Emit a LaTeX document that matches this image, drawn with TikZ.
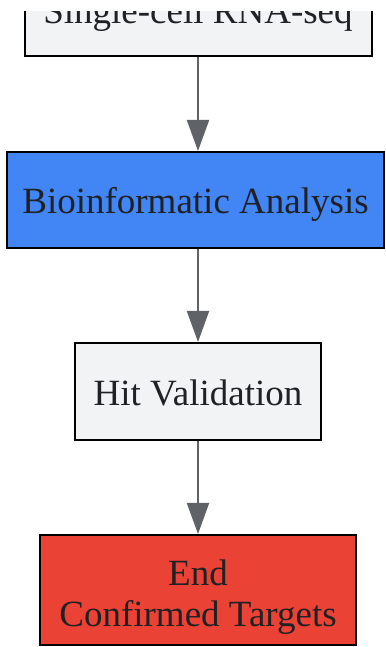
\documentclass[tikz,border=0pt]{standalone}
\usepackage{fontspec}
\setmainfont{Liberation Serif}
\usetikzlibrary{arrows.meta}
\definecolor{boxgray}{HTML}{F1F3F4}
\definecolor{stepblue}{HTML}{4285F4}
\definecolor{stepred}{HTML}{EA4335}
\definecolor{edgegray}{HTML}{5F6368}
\definecolor{txtdark}{HTML}{202124}

\begin{document}
\begin{tikzpicture}[x=0.5pt,y=0.5pt,
  stepbox/.style={draw=black, line width=1pt, text=txtdark, align=center, inner sep=0pt,
    font=\fontsize{18.5}{21}\selectfont, text height=14pt, text depth=0pt},
  flow/.style={draw=edgegray, line width=1pt, -{Triangle[length=15.5pt,width=11pt,fill=edgegray]}}]
\useasboundingbox (0,0) rectangle (385,647);
\clip (0,0) rectangle (385,635);
% boxes
\node[stepbox, fill=boxgray, minimum width=173.5pt, minimum height=46pt] (seq) at (198,637) {Single-cell RNA-seq};
\node[stepbox, fill=stepblue, minimum width=188.5pt, minimum height=48pt] (bio) at (195.5,447) {Bioinformatic Analysis};
\node[stepbox, fill=boxgray, minimum width=123pt, minimum height=48.5pt] (hit) at (198,255.5) {Hit Validation};
\node[stepbox, fill=stepred, minimum width=158pt, minimum height=55pt, text height=37pt] (done) at (198,57) {End\\Confirmed Targets};
% arrows
\draw[flow] (seq.south) -- (seq.south |- bio.north);
\draw[flow] (hit.north |- bio.south) -- (hit.north);
\draw[flow] (hit.south) -- (done.north);
\end{tikzpicture}
\end{document}
